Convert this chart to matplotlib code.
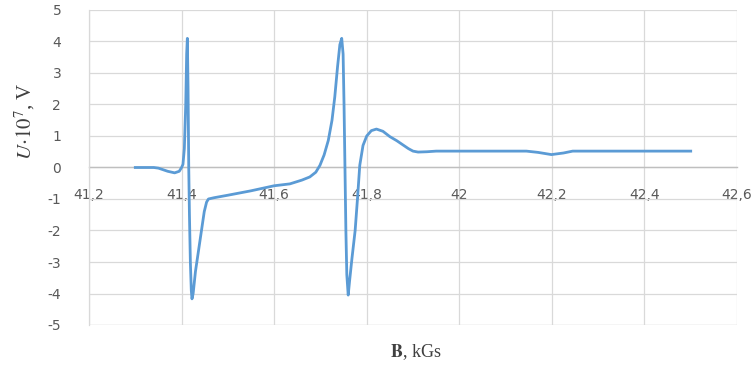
import matplotlib
matplotlib.use("Agg")
from matplotlib import pyplot as plt
from matplotlib.ticker import FuncFormatter

# field B, kGs and signal U*10^7, V
b = [41.30, 41.34, 41.35, 41.37, 41.385, 41.395, 41.400, 41.403, 41.406, 41.409,
     41.411, 41.4125, 41.414, 41.4155, 41.417, 41.419, 41.421, 41.4225, 41.425,
     41.430, 41.437, 41.443, 41.449, 41.454, 41.458, 41.470, 41.500, 41.550,
     41.600, 41.634, 41.660, 41.677, 41.690, 41.699, 41.708, 41.717, 41.725,
     41.731, 41.737, 41.742, 41.746, 41.749, 41.751, 41.753, 41.755, 41.757,
     41.760, 41.763, 41.768, 41.775, 41.780, 41.785, 41.792, 41.800, 41.810,
     41.821, 41.835, 41.850, 41.865, 41.880, 41.890, 41.900, 41.911, 41.930,
     41.950, 42.000, 42.100, 42.145, 42.170, 42.199, 42.225, 42.245, 42.300,
     42.400, 42.500]
u = [0.00, 0.00, -0.02, -0.12, -0.17, -0.12, 0.00, 0.10, 0.60, 2.00,
     3.60, 4.10, 2.50, 0.00, -1.50, -3.00, -3.90, -4.17, -4.00,
     -3.30, -2.60, -2.00, -1.40, -1.10, -1.00, -0.96, -0.88, -0.74,
     -0.58, -0.52, -0.40, -0.30, -0.15, 0.07, 0.40, 0.86, 1.50,
     2.24, 3.20, 3.90, 4.10, 3.60, 2.00, 0.00, -2.00, -3.40,
     -4.05, -3.60, -2.90, -2.00, -1.00, 0.07, 0.70, 1.00, 1.17,
     1.22, 1.15, 0.98, 0.85, 0.70, 0.60, 0.52, 0.49, 0.50,
     0.52, 0.52, 0.52, 0.52, 0.48, 0.41, 0.46, 0.52, 0.52,
     0.52, 0.52]

xticks = [41.2, 41.4, 41.6, 41.8, 42.0, 42.2, 42.4, 42.6]
yticks = [5, 4, 3, 2, 1, 0, -1, -2, -3, -4, -5]

plt.rcParams['mathtext.fontset'] = 'stix'
fig = plt.figure(figsize=(7.54, 3.71), dpi=100)
ax = fig.add_axes([89/754, 1-325/371, (737-89)/754, 315/371])

ax.plot(b, u, color="#5B9BD5", lw=2.0, solid_joinstyle="round")

ax.set_xlim(41.2, 42.6)
ax.set_ylim(-5, 5)
ax.set_xticks(xticks)
ax.set_yticks(yticks)
ax.xaxis.set_major_formatter(FuncFormatter(lambda v, p: ("%g" % round(v, 1)).replace(".", ",")))
ax.yaxis.set_major_formatter(FuncFormatter(lambda v, p: "%d" % v))
ax.grid(True, color="#D9D9D9", lw=0.9)
ax.set_axisbelow(True)
for s in ["top", "right"]:
    ax.spines[s].set_visible(False)
ax.spines["bottom"].set_position(("data", 0))
ax.spines["bottom"].set_color("#BFBFBF")
ax.spines["bottom"].set_linewidth(1.0)
ax.spines["bottom"].set_zorder(1)
ax.spines["left"].set_color("#D9D9D9")
ax.spines["left"].set_linewidth(0.9)
ax.axhline(-5, color="#D9D9D9", lw=0.9, zorder=0)
ax.tick_params(length=0, colors="#595959", labelsize=10)
ax.tick_params(axis="y", pad=20)
ax.tick_params(axis="x", pad=15)

fig.text(25/754, 1-121/371, r"$U{\cdot}10^{7}$, V", rotation=90, ha="center", va="center",
         fontsize=15, family="Liberation Serif", color="#404040")
fig.text(416/754, 1-352/371, r"$\mathbf{B}$, kGs", ha="center", va="center",
         fontsize=13, family="Liberation Serif", color="#404040")

fig.savefig("out.png", dpi=100)
